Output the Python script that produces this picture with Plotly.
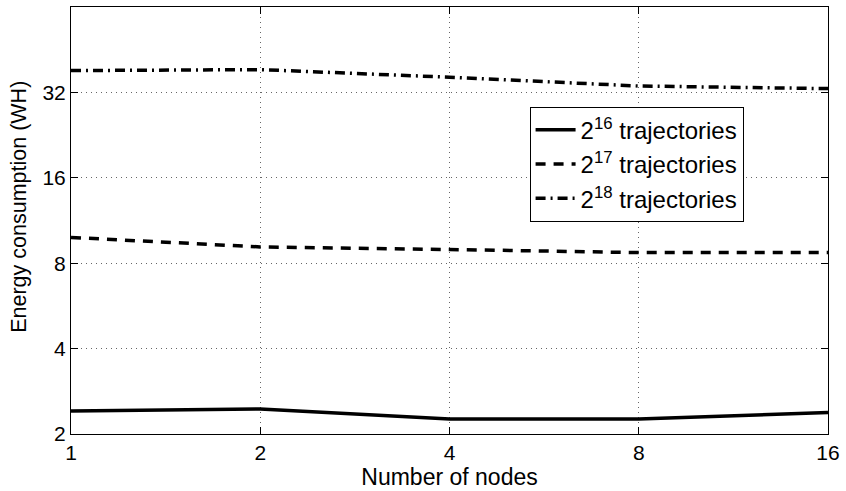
import plotly.graph_objects as go

# Number of compute nodes and measured energy (WH) per workload size
nodes = [1, 2, 4, 8, 16]
energy_2_16 = [2.41, 2.45, 2.26, 2.26, 2.38]
energy_2_17 = [9.86, 9.13, 8.94, 8.72, 8.72]
energy_2_18 = [38.2, 38.5, 36.2, 33.7, 33.0]

series_names = ["2<sup>16</sup> trajectories",
                "2<sup>17</sup> trajectories",
                "2<sup>18</sup> trajectories"]
x_ticks = [1, 2, 4, 8, 16]
y_ticks = [2, 4, 8, 16, 32]

FONT = "Arial, Liberation Sans, Helvetica, sans-serif"
W, H = 846, 491
L, R, T, B = 71, 14, 6, 57

fig = go.Figure()
styles = [
    dict(color="black", width=3.5, dash="solid"),
    dict(color="black", width=3.5, dash="10px,8px"),
    dict(color="black", width=3.5, dash="10px,5px,2px,5px"),
]
for name, ys, st in zip(series_names, [energy_2_16, energy_2_17, energy_2_18], styles):
    fig.add_trace(go.Scatter(x=nodes, y=ys, mode="lines", name=name, line=st))

axis_common = dict(
    type="log",
    showline=True, linecolor="black", linewidth=1, mirror="allticks",
    ticks="inside", ticklen=7, tickcolor="black", tickwidth=1,
    showgrid=True, gridcolor="#666666", griddash="1px,4px", gridwidth=1,
    zeroline=False,
    tickfont=dict(family=FONT, size=21, color="black"),
)

fig.update_xaxes(
    **axis_common,
    range=[0, 1.20412],
    tickvals=x_ticks, ticktext=[str(v) for v in x_ticks],
    title=dict(text="Number of nodes", font=dict(family=FONT, size=23, color="black"), standoff=4),
)
fig.update_yaxes(
    **axis_common,
    range=[0.30103, 1.80618],
    tickvals=y_ticks, ticktext=[str(v) for v in y_ticks],
)

plot_w = W - L - R
plot_h = H - T - B
fig.add_annotation(
    text="Energy consumption (WH)", textangle=-90,
    xref="paper", yref="paper",
    x=(18 - L) / plot_w, y=(H - B - 206) / plot_h,
    xanchor="center", yanchor="middle", showarrow=False,
    font=dict(family=FONT, size=21.5, color="black"),
)

fig.update_layout(
    width=W, height=H,
    margin=dict(l=L, r=R, t=T, b=B),
    paper_bgcolor="white", plot_bgcolor="white",
    font=dict(family=FONT, size=21, color="black"),
    legend=dict(
        x=(532 - L) / plot_w, y=(H - B - 106) / plot_h,
        xanchor="left", yanchor="top",
        bgcolor="white", bordercolor="black", borderwidth=1,
        font=dict(family=FONT, size=24, color="black"),
        itemwidth=40,
        tracegroupgap=0,
    ),
)

fig.write_html("out.html")
